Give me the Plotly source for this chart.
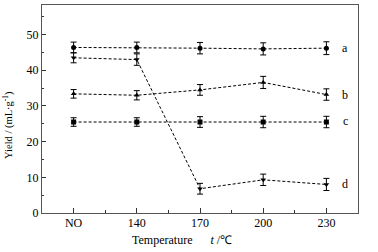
import plotly.graph_objects as go

categories = ["NO", "140", "170", "200", "230"]
series_a = [46.4, 46.4, 46.2, 46.0, 46.2]
series_b = [33.4, 33.0, 34.5, 36.6, 33.2]
series_c = [25.5, 25.5, 25.5, 25.5, 25.5]
series_d = [43.5, 43.0, 6.8, 9.3, 8.0]
err_a = [1.5, 1.5, 1.6, 1.7, 1.8]
err_b = [1.2, 1.3, 1.5, 1.7, 1.6]
err_c = [1.2, 1.2, 1.5, 1.6, 1.6]
err_d = [1.4, 1.6, 1.5, 1.6, 1.7]
labels = ["a", "b", "c", "d"]
label_y = [46.3, 33.0, 25.8, 8.0]

series = [
    (series_a, err_a, "circle"),
    (series_b, err_b, "triangle-up"),
    (series_c, err_c, "square"),
    (series_d, err_d, "triangle-down"),
]

xs = list(range(len(categories)))
fig = go.Figure()
for vals, errs, sym in series:
    fig.add_trace(go.Scatter(
        x=xs, y=vals, mode="lines+markers",
        line=dict(color="black", width=1, dash="3px,2px"),
        marker=dict(symbol=sym, size=5, color="black"),
        error_y=dict(type="data", array=errs, color="black", thickness=1, width=3),
        showlegend=False,
    ))

for lab, ly in zip(labels, label_y):
    fig.add_annotation(x=4.3, y=ly, text=lab, showarrow=False,
                       font=dict(family="Liberation Serif", size=12, color="black"),
                       xanchor="center", yanchor="middle")

fig.add_annotation(x=0.443, y=-0.13, xref="paper", yref="paper",
                   text="Temperature&nbsp;&nbsp;&nbsp;&nbsp;&nbsp;&nbsp;<i>t</i> /℃", showarrow=False,
                   font=dict(family="Liberation Serif", size=12, color="black"),
                   xanchor="center", yanchor="middle")
fig.add_annotation(x=-0.108, y=0.423, xref="paper", yref="paper",
                   text="Yield / (mL·g<sup>-1</sup>)", showarrow=False, textangle=-90,
                   font=dict(family="Liberation Serif", size=10.5, color="black"),
                   xanchor="center", yanchor="middle")

fig.update_layout(
    width=378, height=252,
    margin=dict(l=42, r=20, t=5, b=39),
    paper_bgcolor="white", plot_bgcolor="white",
    font=dict(family="Liberation Serif", size=12, color="black"),
    xaxis=dict(
        range=[-0.5, 4.5], tickmode="array", tickvals=xs, ticktext=categories,
        ticks="inside", ticklen=5, tickcolor="#333",
        tickfont=dict(size=12), ticklabelstandoff=-1,
        minor=dict(tickmode="array", tickvals=[-0.5 + i for i in range(6)] + [0.5 + i for i in range(4)],
                   ticks="inside", ticklen=3, tickcolor="#333"),
        showline=True, linecolor="#555", linewidth=1, mirror=True,
        showgrid=False, zeroline=False,
    ),
    yaxis=dict(
        range=[0, 58.3], tickvals=[0, 10, 20, 30, 40, 50],
        ticks="inside", ticklen=4, tickcolor="#333",
        tickfont=dict(size=12),
        minor=dict(tickvals=[5, 15, 25, 35, 45, 55], ticks="inside", ticklen=2, tickcolor="#333"),
        showline=True, linecolor="#555", linewidth=1, mirror=True,
        showgrid=False, zeroline=False,
    ),
)

fig.write_html("out.html", config={"displayModeBar": False},
               post_script="document.body.style.margin='0';")
